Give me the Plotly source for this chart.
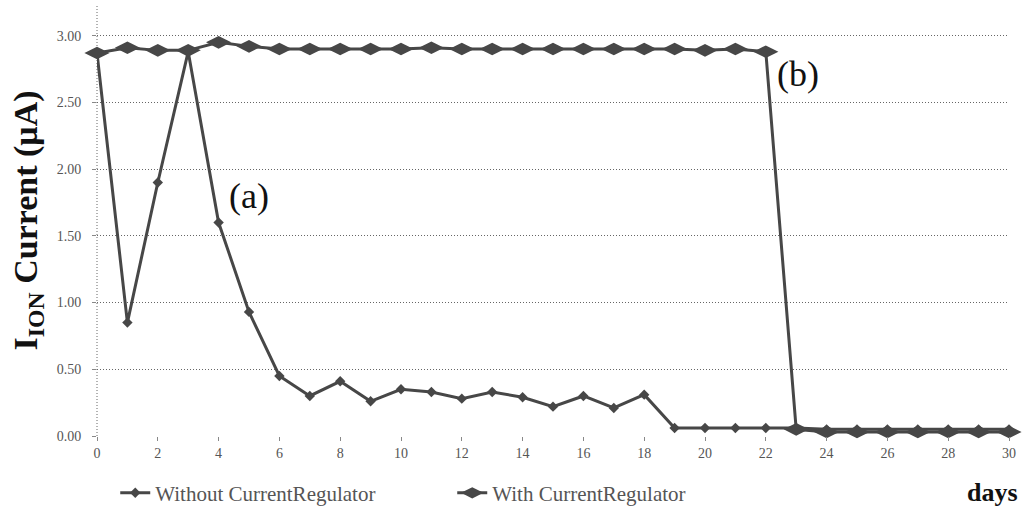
import plotly.graph_objects as go

days = list(range(0, 31))
without_reg = [2.87, 0.85, 1.90, 2.88, 1.60, 0.93, 0.45, 0.30, 0.41, 0.26,
               0.35, 0.33, 0.28, 0.33, 0.29, 0.22, 0.30, 0.21, 0.31, 0.06,
               0.06, 0.06, 0.06, 0.06, 0.05, 0.05, 0.05, 0.05, 0.05, 0.05, 0.05]
with_reg = [2.87, 2.91, 2.89, 2.89, 2.95, 2.92, 2.90, 2.90, 2.90, 2.90,
            2.90, 2.91, 2.90, 2.90, 2.90, 2.90, 2.90, 2.90, 2.90, 2.90,
            2.89, 2.90, 2.88, 0.05, 0.03, 0.03, 0.03, 0.03, 0.03, 0.03, 0.03]
y_ticks = [0.0, 0.5, 1.0, 1.5, 2.0, 2.5, 3.0]
y_tick_text = ["0.00", "0.50", "1.00", "1.50", "2.00", "2.50", "3.00"]
x_ticks = list(range(0, 31, 2))

SERIF = "Liberation Serif"
LINE_COL = "#474747"

fig = go.Figure()
fig.add_trace(go.Scatter(
    x=days, y=without_reg, mode="lines+markers", name="Without CurrentRegulator",
    line=dict(color=LINE_COL, width=3),
    marker=dict(symbol="diamond", size=8, color=LINE_COL),
    cliponaxis=False,
))
fig.add_trace(go.Scatter(
    x=days, y=with_reg, mode="lines+markers", name="With CurrentRegulator",
    line=dict(color=LINE_COL, width=3),
    marker=dict(symbol="diamond-wide", size=18, color=LINE_COL),
    cliponaxis=False,
))

fig.update_layout(
    width=1024, height=518,
    margin=dict(l=97, r=15, t=5, b=82),
    paper_bgcolor="white", plot_bgcolor="white",
    font=dict(family=SERIF, color="#444"),
    showlegend=True,
    legend=dict(orientation="h", x=0.02, xanchor="left",
                y=0.048, yref="container", yanchor="middle",
                font=dict(family=SERIF, size=21, color="#555"),
                entrywidth=292, entrywidthmode="pixels",
                itemwidth=30, bgcolor="rgba(0,0,0,0)"),
    xaxis=dict(range=[0, 30], tickvals=x_ticks, showgrid=False, zeroline=False,
               showline=False, ticks="outside", ticklen=4, tickcolor="#888",
               tickfont=dict(family=SERIF, size=14, color="#555")),
    yaxis=dict(range=[0, 3.23], tickvals=y_ticks, ticktext=y_tick_text,
               showgrid=True, gridcolor="#666", griddash="1px,2px", gridwidth=1,
               zeroline=False, showline=False, ticks="outside", ticklen=4,
               tickcolor="#888", ticklabelstandoff=8,
               tickfont=dict(family=SERIF, size=14, color="#555"),
               title=dict(text="<b>I<sub>ION</sub> Current (μA)</b>",
                          font=dict(family=SERIF, size=34, color="#111"),
                          standoff=8)),
)

fig.add_shape(type="line", xref="x domain", yref="y domain",
              x0=0, x1=0, y0=0, y1=1,
              line=dict(color="#666", width=1, dash="1px,2px"), layer="below")

fig.add_annotation(x=5, y=1.80, text="(a)", showarrow=False,
                   font=dict(family=SERIF, size=36, color="#111"))
fig.add_annotation(x=22.3, y=2.71, text="(b)", showarrow=False,
                   xanchor="left",
                   font=dict(family=SERIF, size=36, color="#111"))
fig.add_annotation(xref="paper", yref="paper", x=1.0, y=-0.132,
                   xanchor="right", yanchor="middle", showarrow=False,
                   text="<b>days</b>", xshift=11,
                   font=dict(family=SERIF, size=26, color="#111"))

fig.write_html("out.html", config={"displayModeBar": False},
               post_script="document.body.style.margin='0';")
